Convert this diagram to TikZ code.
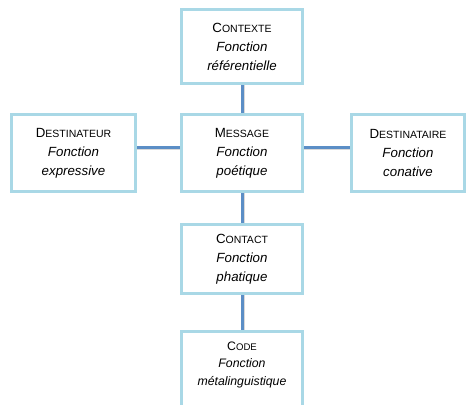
\documentclass[tikz,border=0pt]{standalone}
\usepackage{fontspec}
\setmainfont{Liberation Sans}
\definecolor{bord}{HTML}{A9D8E6}
\definecolor{conn}{HTML}{5B8EC6}
\newcommand\mysc[2]{{#1}{\fontsize{10.5}{19}\selectfont #2}}
\newcommand\mysmallsc[2]{{#1}{\fontsize{9.6}{17.5}\selectfont #2}}
\tikzset{
  box/.style={draw=bord, line width=3pt, fill=white, rectangle, align=center,
    inner sep=0pt, font=\fontsize{13.3}{19}\selectfont},
  link/.style={draw=conn, line width=3pt},
  shade/.style={draw=black!25, line width=2pt, opacity=0.6}
}
\begin{document}
\begin{tikzpicture}[x=1pt,y=-1pt]
\useasboundingbox (0,0) rectangle (467,405);
\node[box, minimum width=121pt, minimum height=74pt] (ctx) at (242,46.5)
  {\mysc{C}{ONTEXTE}\\\textit{Fonction}\\\textit{référentielle}};
\node[box, minimum width=121pt, minimum height=77pt] (msg) at (242,153)
  {\mysc{M}{ESSAGE}\\\textit{Fonction}\\\textit{poétique}};
\node[box, minimum width=124pt, minimum height=77pt] (dst) at (73.5,153)
  {\mysc{D}{ESTINATEUR}\\\textit{Fonction}\\\textit{expressive}};
\node[box, minimum width=113pt, minimum height=77pt] (dtr) at (408,153)
  {\mysc{D}{ESTINATAIRE}\\\textit{Fonction}\\\textit{conative}};
\node[box, minimum width=121pt, minimum height=69pt] (cnt) at (242,259)
  {\mysc{C}{ONTACT}\\\textit{Fonction}\\\textit{phatique}};
\node[box, minimum width=121pt, minimum height=77pt] (cod) at (242,370) {};
\node[align=center, inner sep=0pt, font=\fontsize{12.3}{17.5}\selectfont] (codt) at (242,364.5)
  {\mysmallsc{C}{ODE}\\\textit{Fonction}\\\textit{métalinguistique}};
% connectors
\draw[shade] ([xshift=1.5pt]ctx.south) -- ([xshift=1.5pt]msg.north);
\draw[shade] ([xshift=1.5pt]msg.south) -- ([xshift=1.5pt]cnt.north);
\draw[shade] ([xshift=1.5pt]cnt.south) -- ([xshift=1.5pt]cod.north);
\draw[shade] ([yshift=4.5pt]dst.east) -- ([yshift=4.5pt]msg.west);
\draw[shade] ([yshift=4.5pt]msg.east) -- ([yshift=4.5pt]dtr.west);
\draw[link] (ctx.south) -- (msg.north);
\draw[link] (msg.south) -- (cnt.north);
\draw[link] (cnt.south) -- (cod.north);
\draw[link] ([yshift=6pt]dst.east) -- ([yshift=6pt]msg.west);
\draw[link] ([yshift=6pt]msg.east) -- ([yshift=6pt]dtr.west);
\end{tikzpicture}
\end{document}
